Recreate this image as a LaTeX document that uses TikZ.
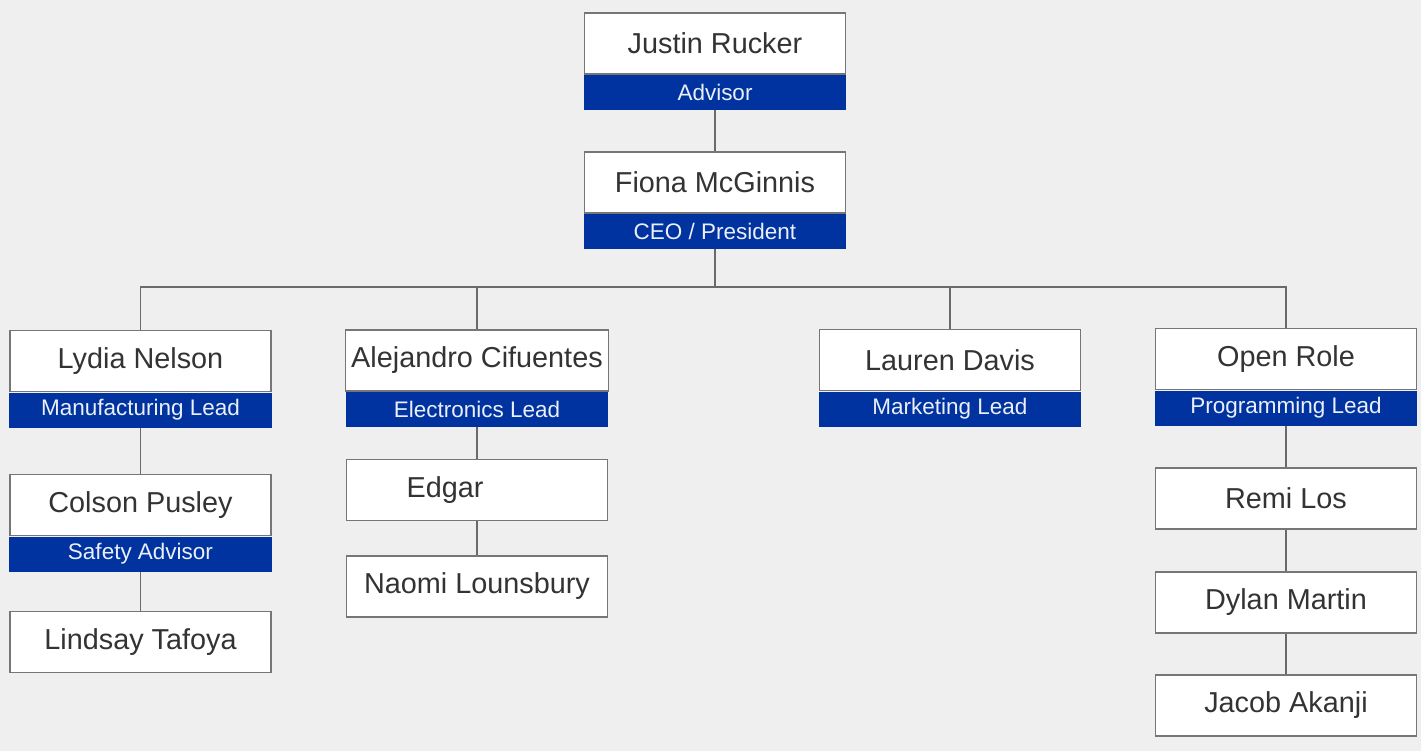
\documentclass[tikz,border=0pt]{standalone}
\usepackage{fontspec}
\setmainfont{Liberation Sans}
\usepackage{tikz}
\usetikzlibrary{positioning}
\definecolor{pagegray}{RGB}{239, 239, 239}
\definecolor{leadblue}{RGB}{0, 51, 160}
\definecolor{edgegray}{RGB}{118, 118, 118}
\definecolor{inkgray}{RGB}{51, 51, 51}

\begin{document}
\begin{tikzpicture}[
    namebox/.style={rectangle, draw=edgegray, line width=0.8pt, fill=white, minimum width=5.22cm, minimum height=1.22cm, text=inkgray, font=\fontsize{16.4}{19}\selectfont},
    rolebar/.style={rectangle, fill=leadblue, minimum width=5.24cm, minimum height=0.7cm, inner sep=0pt, text=white!92!leadblue, font=\fontsize{12.8}{15}\selectfont},
    link/.style={draw=edgegray!90!black, line width=1.1pt}
]
\fill[pagegray] (0,0) rectangle (28.42,-15.02);
\useasboundingbox (0,0) rectangle (28.42,-15.02);

% top of the chart
\node[namebox] (justin) at (14.30,-0.87) {Justin Rucker};
\node[rolebar, below=0pt of justin] (justinrole) {Advisor};
\node[namebox] (fiona) at (14.30,-3.65) {Fiona McGinnis};
\node[rolebar, below=0pt of fiona] (fionarole) {CEO / President};
\coordinate (bus) at (14.30,-5.74);

% leads
\node[namebox] (lydia) at (2.81,-7.22) {Lydia Nelson};
\node[rolebar, below=0pt of lydia] (lydiarole) {Manufacturing Lead};
\node[namebox] (alejandro) at (9.54,-7.21) {Alejandro Cifuentes};
\node[rolebar, below=0pt of alejandro] (alejandrorole) {Electronics Lead};
\node[namebox] (lauren) at (19.0,-7.2) {Lauren Davis};
\node[rolebar, below=0pt of lauren] (laurenrole) {Marketing Lead};
\node[namebox] (openrole) at (25.72,-7.18) {Open Role};
\node[rolebar, below=0pt of openrole] (openrolerole) {Programming Lead};

% team members
\node[namebox] (colson) at (2.81,-10.1) {Colson Pusley};
\node[rolebar, below=0pt of colson] (colsonrole) {Safety Advisor};
\node[namebox] (lindsay) at (2.81,-12.84) {Lindsay Tafoya};
\node[namebox] (edgar) at (9.54,-9.8) {Edgar\hspace*{1.28cm}};
\node[namebox] (naomi) at (9.54,-11.73) {Naomi Lounsbury};
\node[namebox] (remi) at (25.72,-9.97) {Remi Los};
\node[namebox] (dylan) at (25.72,-12.05) {Dylan Martin};
\node[namebox] (jacob) at (25.72,-14.11) {Jacob Akanji};

% connectors
\draw[link] (justinrole) -- (fiona);
\foreach \lead in {lydia, alejandro, lauren, openrole}
    \draw[link] (fionarole.south) |- (\lead.north |- bus) -- (\lead.north);
\draw[link] (lydiarole) -- (colson);
\draw[link] (colsonrole) -- (lindsay);
\draw[link] (alejandrorole) -- (edgar);
\draw[link] (edgar) -- (naomi);
\draw[link] (openrolerole) -- (remi);
\draw[link] (remi) -- (dylan);
\draw[link] (dylan) -- (jacob);
\end{tikzpicture}
\end{document}
